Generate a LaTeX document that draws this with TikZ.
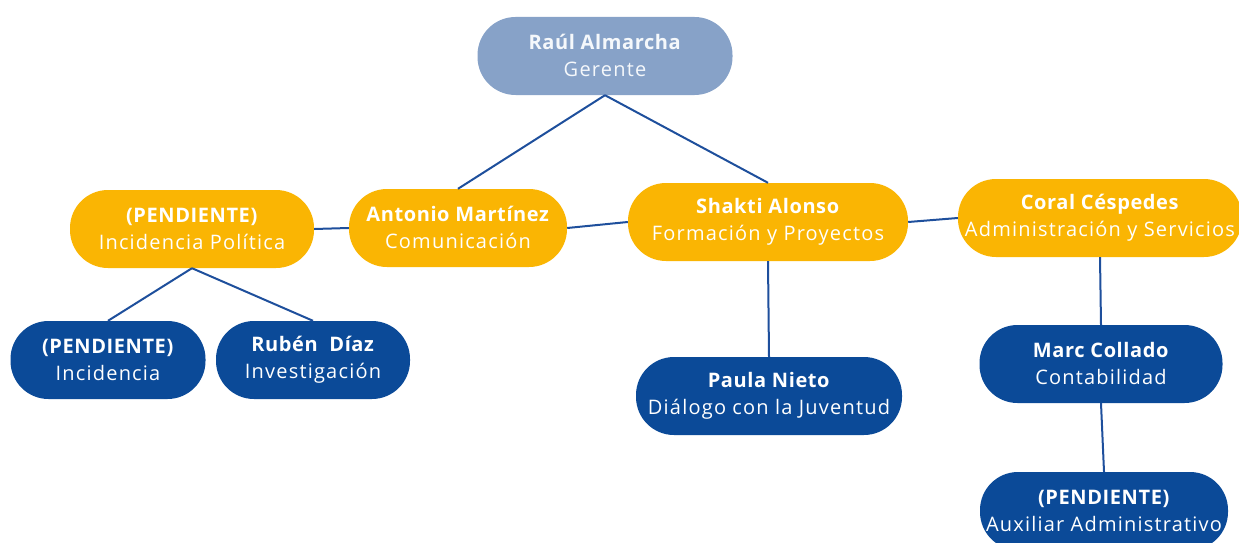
\documentclass[tikz,border=0pt]{standalone}
\usepackage{fontspec}
\setmainfont{Open Sans}[LetterSpace=6, BoldFeatures={LetterSpace=3}]
\definecolor{gris}{HTML}{87A2C8}
\definecolor{amarillo}{HTML}{FAB503}
\definecolor{azul}{HTML}{0B4A98}
\definecolor{linea}{HTML}{1E4F9C}
\begin{document}
\begin{tikzpicture}[x=1pt, y=-1pt,
  pill/.style={rectangle, rounded corners=38pt, minimum height=78pt, inner sep=0pt,
    align=center, text=white, font=\fontsize{20}{27}\selectfont,
    execute at begin node={\rule{0pt}{30pt}}, execute at end node={\rule[-1pt]{0pt}{1pt}}},
  gerente/.style={pill, fill=gris, text=white!92!gris},
  area/.style={pill, fill=amarillo},
  persona/.style={pill, fill=azul},
  enlace/.style={draw=linea, line width=2pt}]
\useasboundingbox (0,0) rectangle (1239,543);
\clip (0,0) rectangle (1239,543);
% direccion
\node [gerente, minimum width=255pt] (raul) at (605,56) {\textbf{Raúl Almarcha}\\Gerente};
% areas
\node [area, minimum width=244pt] (politica) at (192,229) {\textbf{(PENDIENTE)}\\Incidencia Política};
\node [area, minimum width=218pt] (antonio) at (458,228) {\textbf{Antonio Martínez}\\Comunicación};
\node [area, minimum width=280pt] (shakti) at (768,222) {\textbf{Shakti Alonso}\\Formación y Proyectos};
\node [area, minimum width=284pt] (coral) at (1100,218) {\textbf{Coral Céspedes}\\Administración y Servicios};
% personas
\node [persona, minimum width=195pt] (incidencia) at (108,360) {\textbf{(PENDIENTE)}\\Incidencia};
\node [persona, minimum width=194pt] (ruben) at (313,360) {\textbf{Rubén\ \ Díaz}\\Investigación};
\node [persona, minimum width=266pt] (paula) at (769,396) {\textbf{Paula Nieto}\\Diálogo con la Juventud};
\node [persona, minimum width=243pt] (marc) at (1101,364) {\textbf{Marc Collado}\\Contabilidad};
\node [persona, minimum width=248pt] (auxiliar) at (1104,511) {\textbf{(PENDIENTE)}\\Auxiliar Administrativo};
% conexiones
\draw [enlace] (raul.south) -- (antonio.north);
\draw [enlace] (raul.south) -- (shakti.north);
\draw [enlace] (politica.east) -- (antonio.west);
\draw [enlace] (antonio.east) -- (shakti.west);
\draw [enlace] (shakti.east) -- (coral.west);
\draw [enlace] (politica.south) -- (incidencia.north);
\draw [enlace] (politica.south) -- (ruben.north);
\draw [enlace] (shakti.south) -- (paula.north);
\draw [enlace] (coral.south) -- (marc.north);
\draw [enlace] (marc.south) -- (auxiliar.north);
\end{tikzpicture}
\end{document}
